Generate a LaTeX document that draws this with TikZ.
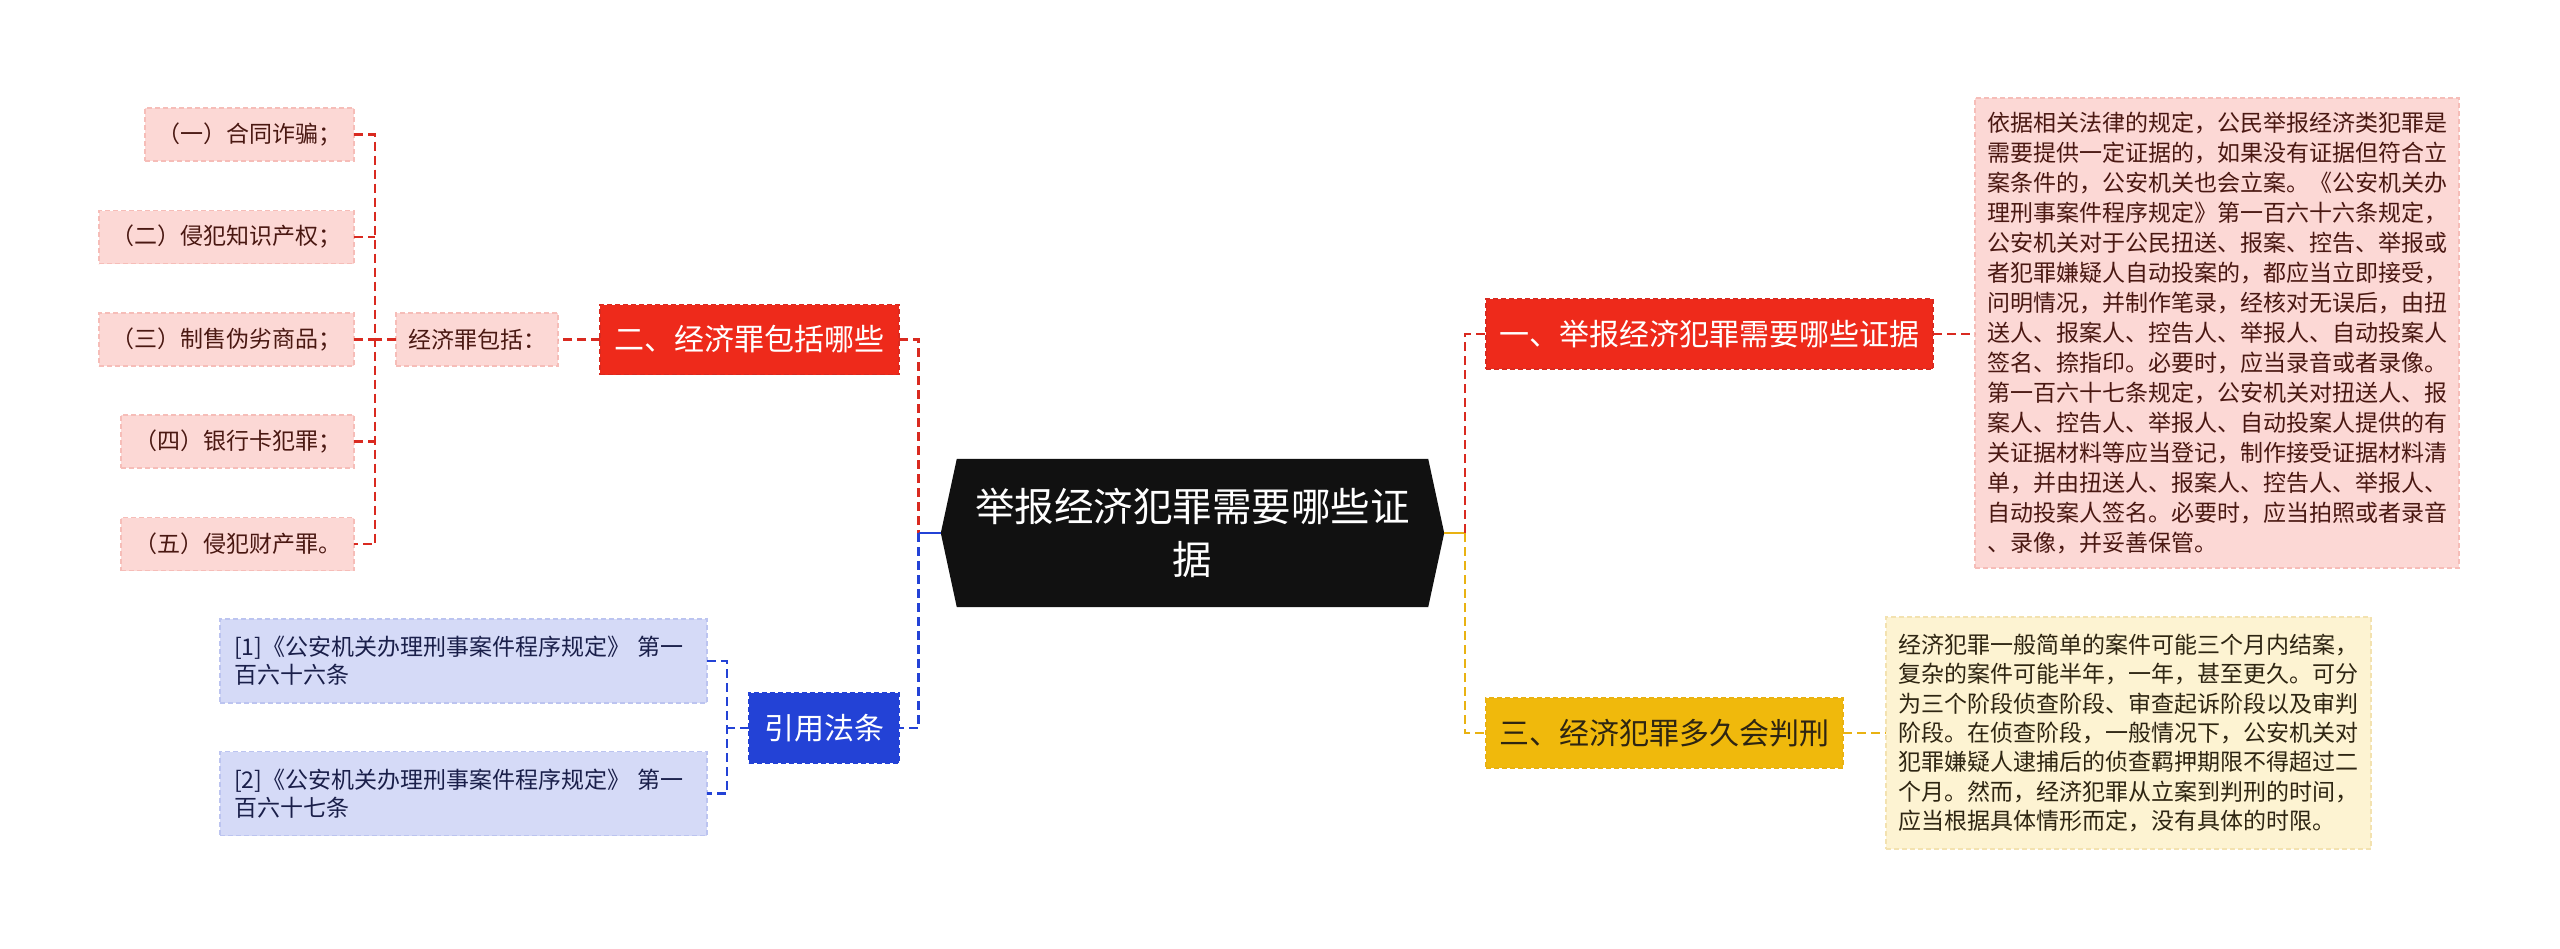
\documentclass[tikz,border=0pt]{standalone}
\usepackage{fontspec}
\setmainfont{Noto Sans CJK SC}
\usetikzlibrary{backgrounds}
\definecolor{redn}{HTML}{EE2A1B}
\definecolor{redl}{HTML}{D92A20}
\definecolor{pinkf}{HTML}{FCD8D5}
\definecolor{pinkd}{HTML}{F6BDB8}
\definecolor{pinkt}{HTML}{4A1812}
\definecolor{bluen}{HTML}{2342D6}
\definecolor{bluel}{HTML}{2342D6}
\definecolor{bluef}{HTML}{D5DAF7}
\definecolor{blued}{HTML}{BCC4F0}
\definecolor{bluet}{HTML}{1A1F4A}
\definecolor{yelln}{HTML}{F0B90C}
\definecolor{yelll}{HTML}{E9B212}
\definecolor{creamf}{HTML}{FDF3D2}
\definecolor{creamd}{HTML}{F3E2B0}
\definecolor{creamt}{HTML}{2E2512}
\definecolor{cblack}{HTML}{111111}
\tikzset{
  box/.style={inner sep=0pt, outer sep=0pt, align=center, dash pattern=on 5pt off 3pt, line width=1.3pt},
  leafp/.style={box, fill=pinkf, draw=pinkd, text=pinkt, font=\fontsize{23}{28}\selectfont, minimum height=53pt},
  leafb/.style={box, fill=bluef, draw=blued, text=bluet, font=\fontsize{23}{28}\selectfont, minimum height=84pt, minimum width=487pt, align=left, text width=459pt},
  mainn/.style={box, minimum height=70pt, font=\fontsize{30}{36}\selectfont},
  conn/.style={line width=2.6pt, dash pattern=on 9pt off 5pt},
  solidc/.style={line width=2.6pt}
}
\begin{document}
\begin{tikzpicture}[x=1pt,y=-1pt]
\useasboundingbox (0,0) rectangle (2560,948);

% central
\node[inner sep=0pt, minimum width=503pt, minimum height=148pt, text=white, align=center,
  font=\fontsize{39.5}{53}\selectfont] (c) at (1192.5,533) {举报经济犯罪需要哪些证\\据};
\begin{scope}[on background layer]
\fill[white] (0,0) rectangle (2560,948);
\fill[cblack] (c.west) -- ([xshift=16pt]c.north west) -- ([xshift=-16pt]c.north east) -- (c.east)
  -- ([xshift=-16pt]c.south east) -- ([xshift=16pt]c.south west) -- cycle;
\end{scope}

% left red branch
\node[mainn, fill=redn, draw=redl, text=white, minimum width=299pt] (b2) at (749.5,339.5) {二、经济罪包括哪些};
\node[leafp, minimum width=162pt] (s2) at (477,339.5) {经济罪包括：};
\node[leafp, minimum width=209pt] (l1) at (249.5,134.5) {（一）合同诈骗；};
\node[leafp, minimum width=255pt] (l2) at (226.5,237) {（二）侵犯知识产权；};
\node[leafp, minimum width=255pt] (l3) at (226.5,339.5) {（三）制售伪劣商品；};
\node[leafp, minimum width=233pt] (l4) at (237.5,441.5) {（四）银行卡犯罪；};
\node[leafp, minimum width=233pt] (l5) at (237.5,544) {（五）侵犯财产罪。};

% left blue branch
\node[mainn, fill=bluen, draw=bluel, text=white, minimum width=150pt] (b4) at (824,728) {引用法条};
\node[leafb] (r1) at (463.5,661) {[1]《公安机关办理刑事案件程序规定》 第一\\百六十六条};
\node[leafb] (r2) at (463.5,793.5) {[2]《公安机关办理刑事案件程序规定》 第一\\百六十七条};

% right branches
\node[mainn, fill=redn, draw=redl, text=white, minimum width=447pt] (b1) at (1709.5,334) {一、举报经济犯罪需要哪些证据};
\node[box, fill=pinkf, draw=pinkd, text=pinkt, minimum width=484pt, minimum height=470pt, align=left,
  font=\fontsize{23}{30}\selectfont] (t1) at (2217,333) {依据相关法律的规定，公民举报经济类犯罪是\\需要提供一定证据的，如果没有证据但符合立\\案条件的，公安机关也会立案。《公安机关办\\理刑事案件程序规定》第一百六十六条规定，\\公安机关对于公民扭送、报案、控告、举报或\\者犯罪嫌疑人自动投案的，都应当立即接受，\\问明情况，并制作笔录，经核对无误后，由扭\\送人、报案人、控告人、举报人、自动投案人\\签名、捺指印。必要时，应当录音或者录像。\\第一百六十七条规定，公安机关对扭送人、报\\案人、控告人、举报人、自动投案人提供的有\\关证据材料等应当登记，制作接受证据材料清\\单，并由扭送人、报案人、控告人、举报人、\\自动投案人签名。必要时，应当拍照或者录音\\、录像，并妥善保管。};
\node[mainn, fill=yelln, draw=yelll, text=creamt, minimum width=357pt] (b3) at (1664.5,733) {三、经济犯罪多久会判刑};
\node[box, fill=creamf, draw=creamd, text=creamt, minimum width=485pt, minimum height=232pt, align=left,
  font=\fontsize{23}{29.3}\selectfont] (t3) at (2128.5,733) {经济犯罪一般简单的案件可能三个月内结案，\\复杂的案件可能半年，一年，甚至更久。可分\\为三个阶段侦查阶段、审查起诉阶段以及审判\\阶段。在侦查阶段，一般情况下，公安机关对\\犯罪嫌疑人逮捕后的侦查羁押期限不得超过二\\个月。然而，经济犯罪从立案到判刑的时间，\\应当根据具体情形而定，没有具体的时限。};

% junctions
\coordinate (jl) at (375,339.5);
\coordinate (jm) at (918.5,533);
\coordinate (jb) at (727,728);
\coordinate (jr) at (1465,533);

% connectors left
\draw[conn, redl] (b2.east) -| (jm);
\draw[conn, bluel] (jm) |- (b4.east);
\draw[solidc, bluel] (jm) -- (c.west);
\draw[conn, redl] (b2.west) -- (s2.east);
\draw[conn, redl] (s2.west) -- (jl);
\draw[conn, redl] (l1.east) -- (l1.east -| jl) -- (l5.east -| jl) -- (l5.east);
\draw[conn, redl] (l2.east) -- (l2.east -| jl);
\draw[conn, redl] (l3.east) -- (l3.east -| jl);
\draw[conn, redl] (l4.east) -- (l4.east -| jl);
\draw[conn, bluel] (b4.west) -- (jb);
\draw[conn, bluel] (r1.east) -- (r1.east -| jb) -- (r2.east -| jb) -- (r2.east);

% connectors right
\draw[solidc, yelll] (c.east) -- (jr);
\draw[conn, redl] (jr) |- (b1.west);
\draw[conn, yelll] (jr) |- (b3.west);
\draw[conn, redl] (b1.east) -- (b1.east -| t1.west);
\draw[conn, yelll] (b3.east) -- (t3.west);
\end{tikzpicture}
\end{document}
